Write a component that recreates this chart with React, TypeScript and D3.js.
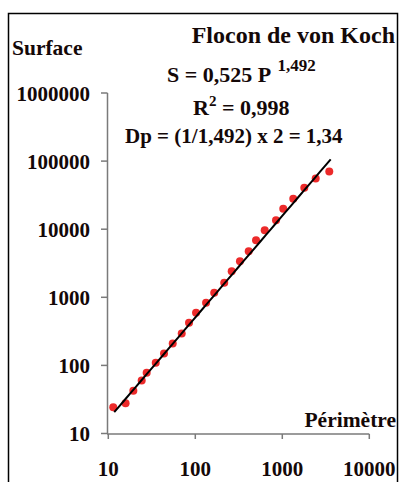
import React from "react";
import * as d3 from "d3";

const perimeter = [11.4, 15.8, 19.4, 24.2, 27.6, 35.1, 43.7, 55, 69.8, 84.7, 102, 133, 165, 215, 262, 326, 411, 499, 628, 847, 1026, 1337, 1790, 2421, 3467];
const surface = [24.3, 27.9, 42.4, 60, 77.9, 109, 150, 210, 294, 422, 592, 830, 1164, 1633, 2417, 3390, 4753, 6890, 9660, 13550, 19950, 27930, 40550, 55460, 70300];
const xTicks = [10, 100, 1000, 10000];
const yTicks = [10, 100, 1000, 10000, 100000, 1000000];
const fitCoef = 0.525;
const fitExp = 1.492;
const fitRange = [11.7, 3600];

const FONT = "'Liberation Serif', 'Times New Roman', serif";
const TXT = "#140808";

export default function App() {
  const x = d3.scaleLog().domain([10, 10000]).range([108.3, 369.3]);
  const y = d3.scaleLog().domain([10, 1000000]).range([433.5, 93]);
  const fit = d3.range(0, 41).map((i) => {
    const p = Math.exp(Math.log(fitRange[0]) + (i / 40) * (Math.log(fitRange[1]) - Math.log(fitRange[0])));
    return [p, fitCoef * Math.pow(p, fitExp)] as [number, number];
  });
  const line = d3.line<[number, number]>().x((d) => x(d[0])).y((d) => y(d[1]));
  const axisColor = "#7a7a7a";
  return (
    <svg width={400} height={482} style={{ position: "absolute", left: 0, top: 0, background: "#fff" }} fontFamily={FONT}>
      <rect x={8.5} y={13.5} width={389} height={480} fill="#fff" stroke="#000" strokeWidth={1.5} />
      {/* axes */}
      <line x1={107.5} x2={107.5} y1={y(1000000)} y2={434} stroke={axisColor} strokeWidth={1.5} />
      <line x1={107} x2={x(10000)} y1={434} y2={434} stroke={axisColor} strokeWidth={1.5} />
      {yTicks.map((t) => (
        <g key={"y" + t}>
          <line x1={101} x2={107.5} y1={y(t)} y2={y(t)} stroke={axisColor} strokeWidth={1.5} />
          <text x={90} y={y(t) + 7.5} textAnchor="end" fontSize={21} fontWeight="bold" fill={TXT}>{t}</text>
        </g>
      ))}
      {xTicks.map((t) => (
        <g key={"x" + t}>
          <line x1={x(t)} x2={x(t)} y1={434} y2={439} stroke={axisColor} strokeWidth={1.5} />
          <text x={x(t)} y={476} textAnchor="middle" fontSize={21} fontWeight="bold" fill={TXT}>{t}</text>
        </g>
      ))}
      {/* data */}
      {perimeter.map((p, i) => (
        <circle key={i} cx={x(p)} cy={y(surface[i])} r={4} fill="#ec2a2a" />
      ))}
      <path d={line(fit) || ""} fill="none" stroke="#000" strokeWidth={2} />
      {/* texts */}
      <text x={395} y={43} textAnchor="end" fontSize={24} fontWeight="bold" fill={TXT}>Flocon de von Koch</text>
      <text x={12} y={55} fontSize={21.5} fontWeight="bold" fill={TXT}>Surface</text>
      <text x={167} y={82} fontSize={22} fontWeight="bold" fill={TXT}>
        S = 0,525 P <tspan fontSize={17} dy={-11} dx={2}>1,492</tspan>
      </text>
      <text x={193} y={115} fontSize={22} fontWeight="bold" fill={TXT}>
        R<tspan fontSize={15} dy={-9}>2</tspan><tspan dy={9}> = 0,998</tspan>
      </text>
      <text x={125} y={143} fontSize={21} fontWeight="bold" fill={TXT}>Dp = (1/1,492) x 2 = 1,34</text>
      <text x={396} y={427} textAnchor="end" fontSize={21.5} fontWeight="bold" fill={TXT}>Périmètre</text>
    </svg>
  );
}
